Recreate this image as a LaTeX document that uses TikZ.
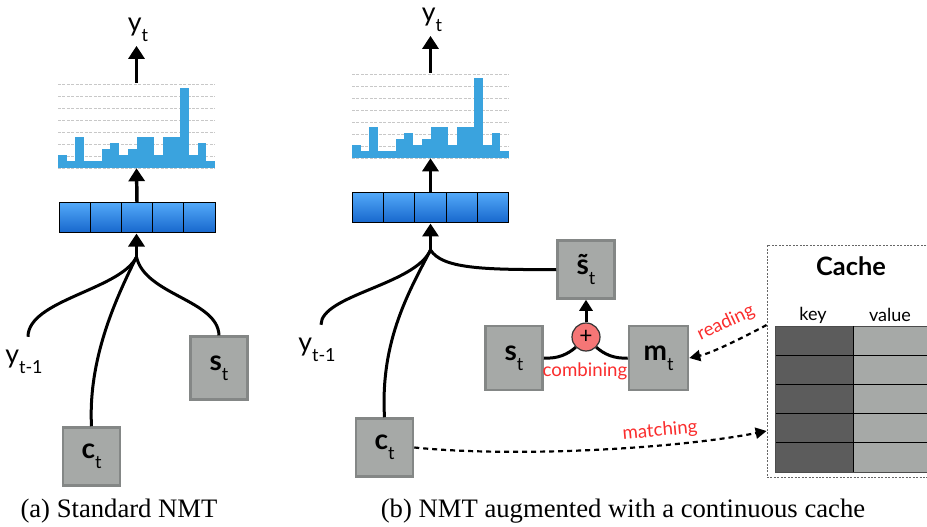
\documentclass[tikz,border=0pt]{standalone}
\usepackage{fontspec}
\setmainfont{Lato}
\newfontfamily\capfont{Liberation Serif}
\usetikzlibrary{arrows.meta}
\definecolor{boxfill}{RGB}{166,169,167}
\definecolor{boxdraw}{RGB}{132,135,134}
\definecolor{barblue}{RGB}{58,163,222}
\definecolor{celltop}{RGB}{82,168,248}
\definecolor{cellbot}{RGB}{22,102,204}
\definecolor{redtxt}{RGB}{250,45,45}
\definecolor{plusfill}{RGB}{245,118,118}
\definecolor{keyfill}{RGB}{92,92,92}
\definecolor{gridgray}{RGB}{200,200,200}
\newcommand\lowsub[1]{\raisebox{-0.36em}{\fontsize{13.5}{13.5}\selectfont\mdseries #1}}
\newcommand\drawhist[2]{%
  \begin{scope}[shift={(#1,#2)}]
    \foreach \g in {0,12,...,84} \draw[gridline] (0,-\g) -- (157,-\g);
    \foreach \h [count=\i] in {13,7,31,7,7,19,25,13,19,31,31,13,31,31,80,13,25,7}
      \fill[barblue] ({(\i-1)*8.722},0) rectangle ({\i*8.722},-\h);
  \end{scope}}
\tikzset{
  vbox/.style={draw=boxdraw, fill=boxfill, line width=1.9pt, minimum width=42.75pt, minimum height=43.5pt, inner sep=0pt, font=\fontsize{21}{21}\selectfont},
  layer/.style={draw=black, line width=0.75pt, top color=celltop, bottom color=cellbot, minimum width=117pt, minimum height=22.5pt, inner sep=0pt},
  histbox/.style={minimum width=117.75pt, minimum height=63.75pt, inner sep=0pt},
  bigarrow/.style={line width=2.6pt, -{Triangle[length=9.75pt,width=12pt]}},
  curve/.style={line width=2.25pt},
  dasharrow/.style={line width=1.65pt, dash pattern=on 3.75pt off 3pt, -{Triangle[length=8.25pt,width=8.25pt]}},
  redlabel/.style={text=redtxt, font=\fontsize{14}{14}\selectfont, inner sep=0pt},
  outlabel/.style={font=\fontsize{20}{20}\selectfont, inner sep=0pt},
  gridline/.style={gridgray, line width=0.6pt, dash pattern=on 2.25pt off 1.1pt},
  caption/.style={font=\capfont\fontsize{20}{20}\selectfont, inner sep=0pt},
}
\begin{document}
\begin{tikzpicture}[x=0.75pt,y=-0.75pt]
\useasboundingbox (0,0) rectangle (927,527);
% ---------- (a) ----------
\drawhist{58}{168}
\node[histbox] (histL) at (136.5,125.5) {};
\node[layer] (layerL) at (137,218) {};
\foreach \k in {1,...,4} \draw[line width=0.75pt] (59+\k*31.2,203) -- (59+\k*31.2,233);
\node[outlabel] (ytL) at (138,30) {y\lowsub{t}};
\coordinate (ytLb) at ([yshift=-3pt]ytL.south);
\draw[bigarrow] (histL.north) -- (histL.north |- ytLb);
\draw[bigarrow] (layerL.north) -- (histL.south);
\coordinate (JL) at (136.5,257);
\draw[bigarrow] (JL) -- (JL |- layerL.south);
\node[vbox] (cL) at (91.5,456.5) {{\bfseries c}\lowsub{t}};
\node[vbox, minimum height=47pt] (sL) at (219,368) {{\bfseries s}\lowsub{t}};
\node[outlabel] (ylabL) at (24,362) {y\lowsub{t-1}};
\draw[curve] ([xshift=3pt,yshift=10pt]ylabL.north) .. controls (28,300) and (120,290) .. (JL);
\draw[curve] (cL.north) .. controls (88,360) and (115,300) .. (JL);
\draw[curve] (sL.north) .. controls (218,300) and (145,295) .. (JL);
\node[caption] (capA) at (119,511) {(a) Standard NMT};
% ---------- (b) ----------
\drawhist{352}{158}
\node[histbox] (histR) at (430.5,115.5) {};
\node[layer] (layerR) at (430.5,208) {};
\foreach \k in {1,...,4} \draw[line width=0.75pt] (352.5+\k*31.2,193) -- (352.5+\k*31.2,223);
\node[outlabel] (ytR) at (432,20) {y\lowsub{t}};
\coordinate (ytRb) at ([yshift=-3pt]ytR.south);
\draw[bigarrow] (histR.north) -- (histR.north |- ytRb);
\draw[bigarrow] (layerR.north) -- (histR.south);
\coordinate (JR) at (430.5,250);
\draw[bigarrow] (JR) -- (JR |- layerR.south);
\node[vbox] (cR) at (384.5,447.5) {{\bfseries c}\lowsub{t}};
\node[vbox] (stil) at (586,269.5) {{\bfseries\~{s}}\lowsub{t}};
\node[vbox, minimum height=48pt] (sR) at (514,358) {{\bfseries s}\lowsub{t}};
\node[vbox, minimum height=48pt, minimum width=44.25pt] (mR) at (658.5,358) {{\bfseries m}\lowsub{t}};
\node[outlabel] (ylabR) at (317,350) {y\lowsub{t-1}};
\draw[curve] ([xshift=3pt,yshift=10pt]ylabR.north) .. controls (321,295) and (415,285) .. (JR);
\draw[curve] (cR.north) .. controls (380,340) and (410,290) .. (JR);
\draw[curve] (JR) .. controls (442,268) and (480,270) .. (stil.west);
\node[circle, draw=black!80, fill=plusfill, line width=0.9pt, minimum size=21pt, inner sep=0pt, font=\fontsize{17}{17}\selectfont] (plus) at (586,337) {+};
\draw[curve] (sR.east) .. controls (558,359) and (568,354) .. (plus.south west);
\draw[curve] (mR.west) .. controls (614,359) and (604,354) .. (plus.south east);
\draw[line width=2.25pt, -{Triangle[length=8.25pt,width=9.75pt]}] (plus.north) -- (stil.south);
\node[redlabel] (comb) at (585,371) {combining};
% cache
\node[draw=black!60, line width=0.6pt, dash pattern=on 1.5pt off 1.1pt, minimum width=122.25pt, minimum height=174pt, inner sep=0pt] (cache) at (848.5,361) {};
\node[font=\fontsize{19}{19}\selectfont\bfseries, inner sep=0pt] (ctitle) at (851,266) {Cache};
\node[font=\fontsize{13.5}{13.5}\selectfont, inner sep=0pt] (key) at (813,315) {key};
\node[font=\fontsize{13.5}{13.5}\selectfont, inner sep=0pt] (val) at (890,315) {value};
\fill[keyfill] (775,326) rectangle (853,472);
\fill[boxfill] (853,326) rectangle (930,472);
\foreach \r in {1,...,4} \draw[line width=0.75pt] (775,326+\r*29.2) -- (930,326+\r*29.2);
\draw[line width=0.75pt, black!70] (775,326) -- (930,326);
\draw[line width=0.75pt, black!70] (775,472) -- (930,472);
\draw[line width=0.75pt, black!70] (775,326) -- (775,472);
\draw[line width=0.75pt] (853,326) -- (853,472);
\draw[dasharrow] ([yshift=27pt]cache.west) .. controls (742,338) and (712,353) .. (mR.east);
\node[redlabel, rotate=25] (readl) at (726,323) {reading};
\draw[dasharrow] (cR.east) .. controls (520,458) and (680,448) .. ([yshift=-52.5pt]cache.west);
\node[redlabel, rotate=5] (matchl) at (660,431) {matching};
\node[caption] (capB) at (623,511) {(b) NMT augmented with a continuous cache};
\end{tikzpicture}
\end{document}
